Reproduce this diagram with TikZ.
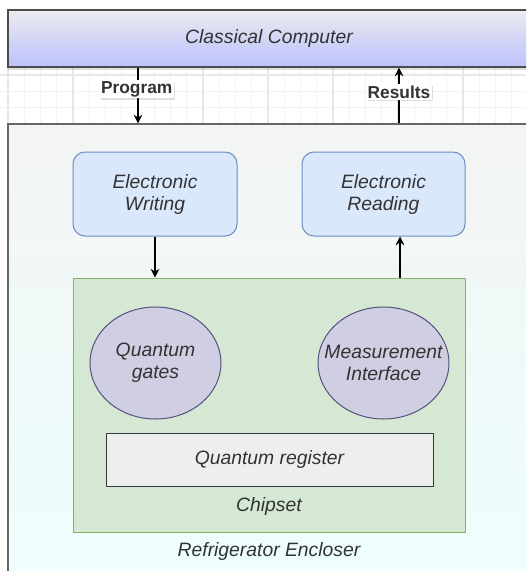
\documentclass[tikz,border=0pt]{standalone}
\usepackage{fontspec}
\setmainfont{Liberation Sans}
\usetikzlibrary{shapes.geometric,shadows,arrows.meta,fit}
\definecolor{txt}{HTML}{333333}
\definecolor{ccTop}{HTML}{EBEBEF}
\definecolor{ccBot}{HTML}{BCC1FC}
\definecolor{ccLine}{HTML}{4D4D4D}
\definecolor{frTop}{HTML}{F3F4F4}
\definecolor{frBot}{HTML}{EEFEFE}
\definecolor{frLine}{HTML}{666666}
\definecolor{elFill}{HTML}{DAE8FC}
\definecolor{elLine}{HTML}{6C8EBF}
\definecolor{chFill}{HTML}{D5E8D4}
\definecolor{chLine}{HTML}{82B366}
\definecolor{qFill}{HTML}{D0CEE2}
\definecolor{qLine}{HTML}{56517E}
\definecolor{rgFill}{HTML}{EEEEEE}
\definecolor{rgLine}{HTML}{36393D}
\definecolor{gridMinor}{HTML}{F3F3F3}
\definecolor{gridMajor}{HTML}{E8E8E8}
\tikzset{
  txtfont/.style={font=\fontsize{14.5}{16.5}\selectfont\itshape, text=txt, align=center},
  ccbox/.style={draw=ccLine, line width=0.9pt, top color=ccTop, bottom color=ccBot, inner sep=0pt,
    drop shadow={shadow xshift=0pt, shadow yshift=-2pt, opacity=0.25}, txtfont},
  fridgebox/.style={draw=frLine, line width=0.9pt, top color=frTop, bottom color=frBot, inner sep=0pt},
  elbox/.style={draw=elLine, line width=0.75pt, fill=elFill, rounded corners=9pt, inner sep=0pt, txtfont},
  chipbox/.style={draw=chLine, line width=0.75pt, fill=chFill, inner sep=0pt},
  qell/.style={ellipse, draw=qLine, line width=0.75pt, fill=qFill, inner xsep=-16pt, inner ysep=0pt, txtfont},
  regbox/.style={draw=rgLine, line width=0.75pt, fill=rgFill, inner sep=0pt, txtfont},
  plain/.style={txtfont, inner sep=0pt},
  arr/.style={-{Stealth[length=6.5pt,width=6.5pt]}, line width=1pt, black},
  lbl/.style={font=\fontsize{13}{15}\selectfont\bfseries, text=txt, fill=white, inner sep=1pt,
    drop shadow={shadow xshift=1.2pt, shadow yshift=-1.2pt, opacity=0.25}},
}
\begin{document}
\begin{tikzpicture}[x=0.75pt,y=-0.75pt]
\useasboundingbox (0,0) rectangle (526,571);
\begin{scope}
\clip (0,0) rectangle (526,571);
\fill[white] (0,0) rectangle (526,571);
% grid in the gap
\foreach \i in {0,...,32} \draw[gridMinor, line width=0.6pt] ({8+16.25*\i},67) -- ({8+16.25*\i},124);
\foreach \j in {75,91.25,107.5} \draw[gridMinor, line width=0.6pt] (0,\j) -- (526,\j);
\foreach \i in {0,...,8} \draw[gridMajor, line width=0.8pt] ({8+65*\i},67) -- ({8+65*\i},124);
\draw[gridMajor, line width=0.8pt] (0,75) -- (526,75);
% refrigerator
\node[fridgebox, fit={(8,124) (530,580)}] (fridge) {};
\node[plain] (fridgelbl) at (269,551) {Refrigerator Encloser};
% classical computer
\node[ccbox, minimum width={522*0.75pt}, minimum height={57*0.75pt}] (cc) at (269,38.5) {Classical Computer};
% electronics
\node[elbox, minimum width={164*0.75pt}, minimum height={84*0.75pt}] (ew) at (155,194) {Electronic\\Writing};
\node[elbox, minimum width={163*0.75pt}, minimum height={84*0.75pt}] (er) at (383.5,194) {Electronic\\Reading};
% chipset
\node[chipbox, minimum width={392*0.75pt}, minimum height={254*0.75pt}] (chip) at (269,405) {};
\node[plain] (chiplbl) at (269,506) {Chipset};
\node[qell, minimum width={131*0.75pt}, minimum height={112*0.75pt}] (qg) at (155.5,363) {Quantum\\gates};
\node[qell, minimum width={131*0.75pt}, minimum height={112*0.75pt}] (mi) at (383.5,363) {Measurement\\Interface};
\node[regbox, minimum width={327*0.75pt}, minimum height={53*0.75pt}] (qr) at (269.5,459.5) {Quantum register};
% connectors
\coordinate (progx) at (138,0);
\coordinate (resx) at (399,0);
\coordinate (rdx) at (400,0);
\draw[arr] (cc.south -| progx) -- node[lbl, pos=0.39, xshift=-1pt] (proglbl) {Program} (fridge.north -| progx);
\draw[arr] (fridge.north -| resx) -- node[lbl, pos=0.56] (reslbl) {Results} (cc.south -| resx);
\draw[arr] (ew.south) -- (ew.south |- chip.north);
\draw[arr] (chip.north -| rdx) -- (er.south -| rdx);
\end{scope}
\end{tikzpicture}
\end{document}
